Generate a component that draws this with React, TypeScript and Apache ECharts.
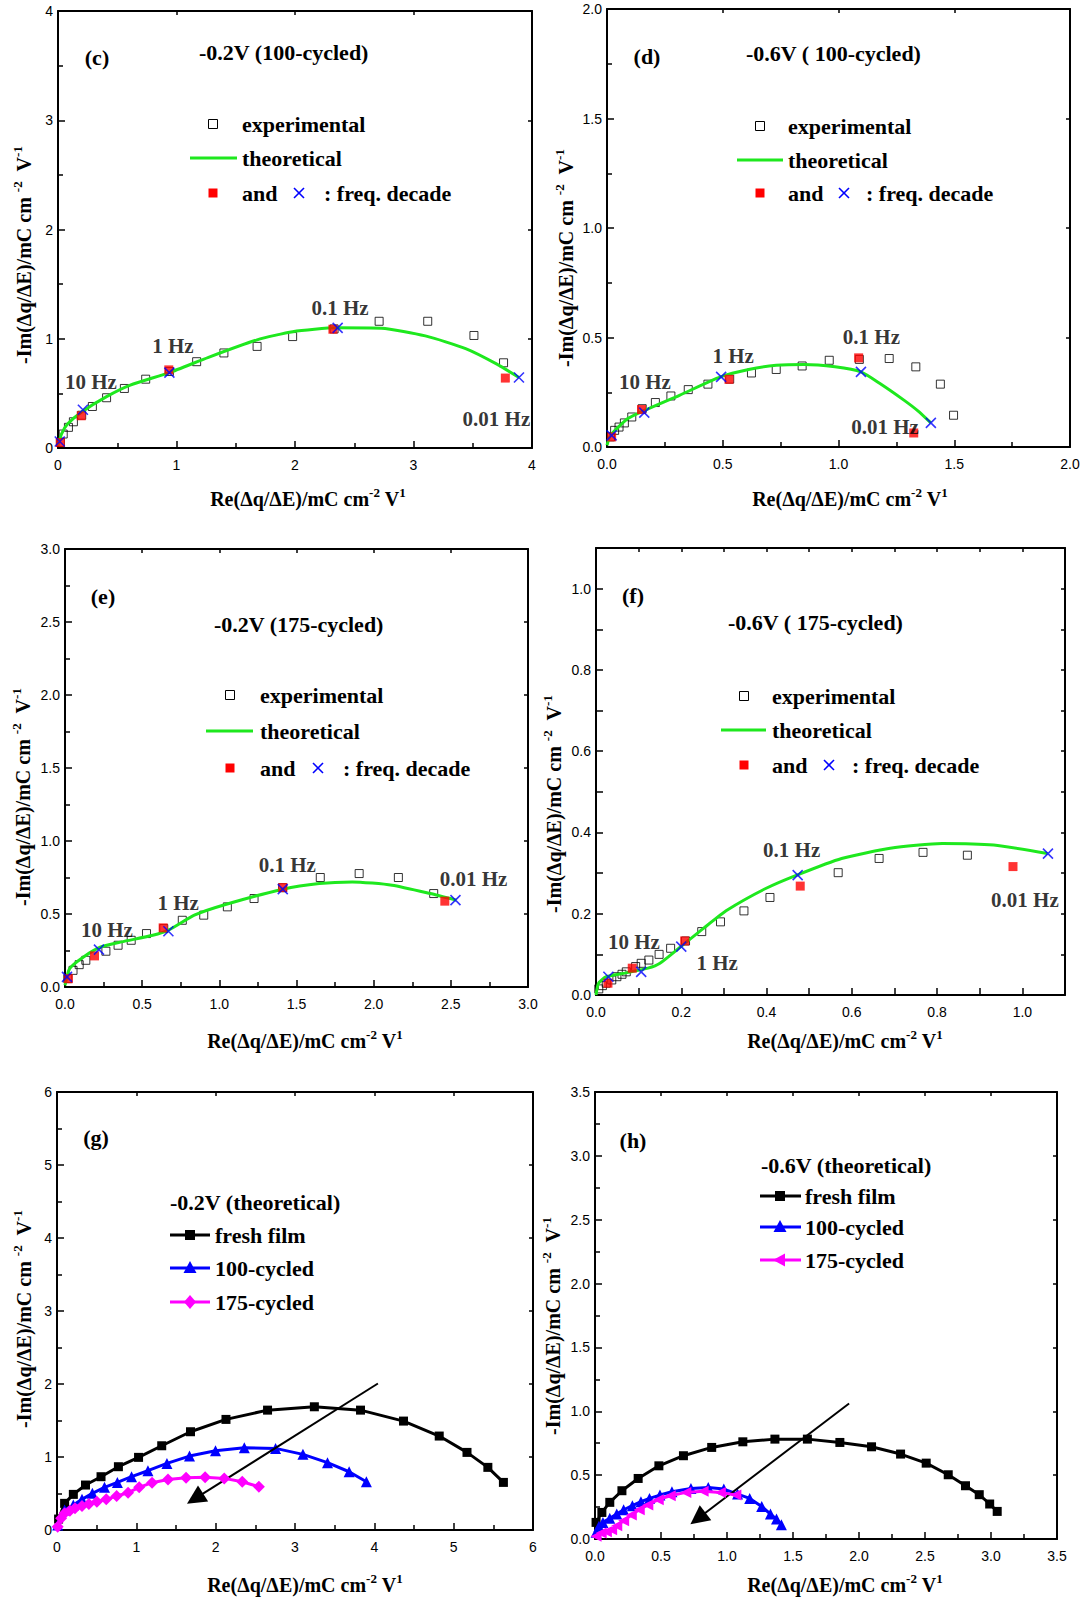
import React, { useEffect, useRef } from "react";
import * as echarts from "echarts";

type Pt = [number, number];

const SERIF = '"Liberation Serif", "Times New Roman", serif';
const SANS = '"Liberation Sans", Arial, sans-serif';
const GREEN = "#1ee81e";
const RED = "#ff0000";
const BLUE = "#0000ff";
const MAGENTA = "#ff00ff";
const BLACK = "#000000";

const FREQ_NAMES = ["10 Hz", "1 Hz", "0.1 Hz", "0.01 Hz"];

// ---------- (c) -0.2V (100-cycled) ----------
const C_EXP: Pt[] = [[0.02, 0.05], [0.044, 0.128], [0.088, 0.189], [0.13, 0.24], [0.2, 0.3], [0.29, 0.38], [0.41, 0.46], [0.56, 0.545], [0.74, 0.63], [0.94, 0.7], [1.17, 0.79], [1.4, 0.87], [1.68, 0.93], [1.98, 1.02], [2.33, 1.09], [2.71, 1.16], [3.12, 1.16], [3.51, 1.03], [3.76, 0.78]];
const C_THEO: Pt[] = [[0, 0.02], [0.03, 0.13], [0.08, 0.22], [0.2, 0.33], [0.41, 0.47], [0.61, 0.575], [0.94, 0.69], [1.27, 0.83], [1.68, 0.99], [1.98, 1.065], [2.35, 1.1], [2.73, 1.096], [3.1, 1.026], [3.44, 0.91], [3.7, 0.77], [3.89, 0.645]];
const C_RED: Pt[] = [[0.02, 0.05], [0.196, 0.295], [0.935, 0.715], [2.32, 1.087], [3.775, 0.64]];
const C_BLUE: Pt[] = [[0.015, 0.06], [0.21, 0.35], [0.94, 0.69], [2.36, 1.1], [3.89, 0.645]];
const C_LABEL_AT: Pt[] = [[0.278, 0.607], [0.97, 0.935], [2.38, 1.285], [3.7, 0.27]];

// ---------- (d) -0.6V (100-cycled) ----------
const D_EXP: Pt[] = [[0.015, 0.046], [0.033, 0.076], [0.052, 0.091], [0.075, 0.11], [0.107, 0.137], [0.152, 0.175], [0.209, 0.203], [0.276, 0.233], [0.351, 0.262], [0.436, 0.287], [0.53, 0.31], [0.624, 0.338], [0.731, 0.354], [0.843, 0.37], [0.96, 0.396], [1.09, 0.4], [1.219, 0.404], [1.334, 0.366], [1.44, 0.287], [1.497, 0.145]];
const D_THEO: Pt[] = [[0, 0.008], [0.015, 0.053], [0.09, 0.13], [0.164, 0.168], [0.313, 0.236], [0.49, 0.32], [0.612, 0.354], [0.731, 0.373], [0.851, 0.377], [0.985, 0.366], [1.097, 0.343], [1.179, 0.29], [1.284, 0.213], [1.343, 0.165], [1.399, 0.11]];
const D_RED: Pt[] = [[0.02, 0.046], [0.149, 0.171], [0.527, 0.309], [1.087, 0.407], [1.325, 0.064]];
const D_BLUE: Pt[] = [[0.02, 0.053], [0.161, 0.157], [0.493, 0.32], [1.097, 0.343], [1.399, 0.11]];
const D_LABEL_AT: Pt[] = [[0.164, 0.297], [0.545, 0.415], [1.142, 0.503], [1.201, 0.091]];

// ---------- (e) -0.2V (175-cycled) ----------
const E_EXP: Pt[] = [[0.018, 0.057], [0.052, 0.114], [0.092, 0.153], [0.135, 0.183], [0.265, 0.245], [0.344, 0.286], [0.429, 0.32], [0.528, 0.366], [0.64, 0.4], [0.76, 0.457], [0.899, 0.492], [1.052, 0.549], [1.225, 0.606], [1.41, 0.68], [1.654, 0.75], [1.906, 0.777], [2.16, 0.75], [2.389, 0.64]];
const E_THEO: Pt[] = [[0, 0.011], [0.03, 0.126], [0.12, 0.206], [0.231, 0.274], [0.366, 0.309], [0.569, 0.354], [0.67, 0.389], [0.838, 0.492], [1.04, 0.565], [1.411, 0.67], [1.647, 0.709], [1.861, 0.72], [2.12, 0.697], [2.366, 0.64], [2.535, 0.595]];
const E_RED: Pt[] = [[0.022, 0.057], [0.191, 0.213], [0.636, 0.405], [1.411, 0.681], [2.461, 0.588]];
const E_BLUE: Pt[] = [[0.013, 0.069], [0.22, 0.256], [0.67, 0.382], [1.411, 0.67], [2.53, 0.595]];
const E_LABEL_AT: Pt[] = [[0.272, 0.389], [0.733, 0.572], [1.44, 0.839], [2.647, 0.743]];

// ---------- (f) -0.6V (175-cycled) ----------
const F_EXP: Pt[] = [[0.0065, 0.015], [0.015, 0.023], [0.024, 0.029], [0.037, 0.037], [0.049, 0.045], [0.061, 0.051], [0.071, 0.057], [0.093, 0.07], [0.106, 0.078], [0.124, 0.086], [0.148, 0.1], [0.175, 0.115], [0.21, 0.133], [0.248, 0.156], [0.292, 0.18], [0.347, 0.207], [0.408, 0.24], [0.568, 0.301], [0.664, 0.336], [0.767, 0.351], [0.871, 0.344]];
const F_THEO: Pt[] = [[0, 0], [0.006, 0.029], [0.024, 0.045], [0.073, 0.055], [0.122, 0.066], [0.15, 0.078], [0.199, 0.119], [0.252, 0.164], [0.308, 0.209], [0.398, 0.262], [0.471, 0.295], [0.576, 0.336], [0.69, 0.361], [0.812, 0.373], [0.933, 0.369], [1.059, 0.348]];
const F_RED: Pt[] = [[0.028, 0.029], [0.085, 0.066], [0.208, 0.133], [0.479, 0.268], [0.978, 0.316]];
const F_BLUE: Pt[] = [[0.029, 0.045], [0.106, 0.057], [0.2, 0.119], [0.473, 0.295], [1.06, 0.348]];
const F_LABEL_AT: Pt[] = [[0.089, 0.13], [0.284, 0.078], [0.459, 0.357], [1.006, 0.235]];

// ---------- (g) -0.2V (theoretical) ----------
const G_FRESH: Pt[] = [[0.02, 0.15], [0.096, 0.365], [0.206, 0.488], [0.359, 0.616], [0.555, 0.73], [0.774, 0.867], [1.028, 0.995], [1.32, 1.154], [1.683, 1.346], [2.13, 1.515], [2.654, 1.642], [3.244, 1.688], [3.826, 1.642], [4.368, 1.492], [4.818, 1.287], [5.168, 1.063], [5.431, 0.858], [5.627, 0.652]];
const G_100: Pt[] = [[0.009, 0.068], [0.096, 0.274], [0.206, 0.342], [0.315, 0.42], [0.446, 0.502], [0.599, 0.584], [0.761, 0.652], [0.94, 0.73], [1.146, 0.812], [1.386, 0.912], [1.67, 1.013], [1.998, 1.086], [2.361, 1.127], [2.755, 1.118], [3.1, 1.036], [3.41, 0.922], [3.682, 0.798], [3.9, 0.661]];
const G_175: Pt[] = [[0.009, 0.046], [0.052, 0.16], [0.096, 0.228], [0.162, 0.265], [0.227, 0.297], [0.315, 0.328], [0.402, 0.356], [0.503, 0.388], [0.621, 0.42], [0.752, 0.465], [0.896, 0.511], [1.036, 0.584], [1.198, 0.648], [1.399, 0.693], [1.627, 0.716], [1.867, 0.721], [2.108, 0.707], [2.335, 0.661], [2.545, 0.593]];
const G_ARROW: Pt[] = [[4.045, 2.007], [1.74, 0.43]];

// ---------- (h) -0.6V (theoretical) ----------
const H_FRESH: Pt[] = [[0.008, 0.13], [0.052, 0.208], [0.112, 0.287], [0.204, 0.378], [0.327, 0.474], [0.484, 0.573], [0.67, 0.652], [0.884, 0.717], [1.12, 0.761], [1.363, 0.782], [1.609, 0.782], [1.855, 0.756], [2.095, 0.722], [2.315, 0.665], [2.509, 0.594], [2.676, 0.503], [2.807, 0.417], [2.911, 0.347], [2.99, 0.274], [3.047, 0.216]];
const H_100: Pt[] = [[0.008, 0.052], [0.03, 0.1], [0.06, 0.13], [0.112, 0.162], [0.165, 0.195], [0.217, 0.229], [0.283, 0.261], [0.348, 0.292], [0.413, 0.318], [0.492, 0.344], [0.583, 0.37], [0.727, 0.396], [0.858, 0.404], [0.976, 0.391], [1.08, 0.352], [1.172, 0.318], [1.263, 0.255], [1.329, 0.195], [1.375, 0.156], [1.412, 0.112]];
const H_175: Pt[] = [[0.008, 0.021], [0.047, 0.047], [0.086, 0.057], [0.126, 0.073], [0.165, 0.104], [0.217, 0.143], [0.275, 0.188], [0.335, 0.229], [0.4, 0.266], [0.479, 0.308], [0.57, 0.339], [0.688, 0.365], [0.819, 0.373], [0.95, 0.365], [1.067, 0.344]];
const H_ARROW: Pt[] = [[1.925, 1.061], [0.78, 0.16]];

// axis ranges: [min, max, interval, minorSplit]
const C_RANGE = [0, 4, 1, 2];
const D_RANGE = [0, 2, 0.5, 2];
const E_RANGE = [0, 3, 0.5, 2];
const F_RANGE = [0, 1.1, 0.1, 0];
const G_RANGE = [0, 6, 1, 2];
const H_RANGE = [0, 3.5, 0.5, 2];

const fmtInt = (v: number) => String(Math.round(v));
const fmt1 = (v: number) => v.toFixed(1);
const fmtEven = (v: number) => {
  const k = Math.round(v * 10);
  return k % 2 === 0 && k <= 10 ? (k / 10).toFixed(1) : "";
};

const PANELS = [
  { left: 58, top: 11, width: 474, height: 437, range: C_RANGE, fmt: fmtInt },
  { left: 607, top: 9, width: 463, height: 438, range: D_RANGE, fmt: fmt1 },
  { left: 65, top: 549, width: 463, height: 438, range: E_RANGE, fmt: fmt1 },
  { left: 596, top: 548, width: 469, height: 447, range: F_RANGE, fmt: fmtEven },
  { left: 57, top: 1092, width: 476, height: 438, range: G_RANGE, fmt: fmtInt },
  { left: 595, top: 1092, width: 462, height: 447, range: H_RANGE, fmt: fmt1 },
];

const X_SYMBOL = "path://M0,0L10,10M10,0L0,10";

function buildAxes(i: number, p: any) {
  const [min, max, interval, minor] = p.range;
  const line = { show: true, onZero: false, lineStyle: { color: BLACK, width: 2 } };
  const main = (pos: string, isX: boolean) => ({
    gridIndex: i,
    type: "value",
    position: pos,
    min,
    max,
    interval,
    splitLine: { show: false },
    axisLine: line,
    axisTick: { show: true, inside: true, length: 7, lineStyle: { color: BLACK, width: 1.5 } },
    minorTick: { show: minor > 1, splitNumber: minor || 2, length: 5, lineStyle: { color: BLACK, width: 1.5 } },
    axisLabel: {
      show: true,
      color: BLACK,
      fontSize: 14,
      fontFamily: SANS,
      margin: isX ? 10 : 5,
      formatter: p.fmt,
      showMaxLabel: true,
    },
  });
  const mirror = (pos: string) => ({
    gridIndex: i,
    type: "value",
    position: pos,
    min,
    max,
    interval,
    splitLine: { show: false },
    axisLine: line,
    axisTick: { show: true, inside: true, length: 4, lineStyle: { color: BLACK, width: 1.5 } },
    minorTick: { show: false },
    axisLabel: { show: false },
  });
  return {
    x: [main("bottom", true), mirror("top")],
    y: [main("left", false), mirror("right")],
  };
}

function freqSeries(i: number, exp: Pt[], theo: Pt[], red: Pt[], blue: Pt[], labelAt: Pt[]) {
  const ax = { xAxisIndex: 2 * i, yAxisIndex: 2 * i };
  return [
    { type: "scatter", ...ax, data: exp, symbol: "rect", symbolSize: 8, itemStyle: { color: "rgba(0,0,0,0)", borderColor: BLACK, borderWidth: 1 }, z: 2, silent: true },
    { type: "line", ...ax, data: theo, showSymbol: false, smooth: 0.2, lineStyle: { color: GREEN, width: 3 }, z: 3, silent: true },
    { type: "scatter", ...ax, data: red, symbol: "rect", symbolSize: 9, itemStyle: { color: RED }, z: 4, silent: true },
    { type: "scatter", ...ax, data: blue, symbol: X_SYMBOL, symbolSize: 10, itemStyle: { color: "rgba(0,0,0,0)", borderColor: BLUE, borderWidth: 1.6 }, z: 5, silent: true },
    {
      type: "scatter",
      ...ax,
      data: FREQ_NAMES.map((n, k) => ({ name: n, value: labelAt[k] })),
      symbolSize: 1,
      itemStyle: { color: "rgba(0,0,0,0)" },
      label: { show: true, position: "inside", formatter: "{b}", fontFamily: SERIF, fontWeight: "bold", fontSize: 21, color: BLACK },
      z: 6,
      silent: true,
    },
  ];
}

function cycleSeries(i: number, fresh: Pt[], c100: Pt[], c175: Pt[], arrow: Pt[], leftTri: boolean) {
  const ax = { xAxisIndex: 2 * i, yAxisIndex: 2 * i };
  return [
    {
      type: "line", ...ax, name: "fresh film", data: fresh, symbol: "rect", symbolSize: 9, showAllSymbol: true,
      lineStyle: { color: BLACK, width: 3 }, itemStyle: { color: BLACK }, z: 3, silent: true,
      markLine: {
        silent: true, symbol: ["none", "triangle"], symbolSize: 19, label: { show: false },
        lineStyle: { color: BLACK, width: 2, type: "solid" }, itemStyle: { color: BLACK },
        data: [[{ coord: arrow[0] }, { coord: arrow[1] }]],
      },
    },
    {
      type: "line", ...ax, name: "100-cycled", data: c100, symbol: "triangle", symbolSize: 11, showAllSymbol: true,
      lineStyle: { color: BLUE, width: 3 }, itemStyle: { color: BLUE }, z: 4, silent: true,
    },
    {
      type: "line", ...ax, name: "175-cycled", data: c175, symbol: leftTri ? "triangle" : "diamond",
      symbolRotate: leftTri ? 90 : 0, symbolSize: leftTri ? 11 : 12, showAllSymbol: true,
      lineStyle: { color: MAGENTA, width: 3 }, itemStyle: { color: MAGENTA }, z: 5, silent: true,
    },
  ];
}

const txt = (x: number, y: number, text: string, extra: any = {}) => ({
  type: "text",
  x,
  y,
  silent: true,
  z: 100,
  style: { text, fontFamily: SERIF, fontWeight: "bold", fontSize: 22, fill: BLACK, align: "left", verticalAlign: "middle", ...extra },
});

function freqLegend(sqX: number, textX: number, yE: number, yT: number, yA: number, l1: number, l2: number, xX: number, colonX: number) {
  return [
    { type: "rect", z: 100, silent: true, shape: { x: sqX - 4.5, y: yE - 4.5, width: 9, height: 9 }, style: { fill: "rgba(0,0,0,0)", stroke: BLACK, lineWidth: 1 } },
    txt(textX, yE, "experimental"),
    { type: "line", z: 100, silent: true, shape: { x1: l1, y1: yT, x2: l2, y2: yT }, style: { stroke: GREEN, lineWidth: 3 } },
    txt(textX, yT, "theoretical"),
    { type: "rect", z: 100, silent: true, shape: { x: sqX - 4.5, y: yA - 4.5, width: 9, height: 9 }, style: { fill: RED } },
    txt(textX, yA, "and"),
    { type: "line", z: 100, silent: true, shape: { x1: xX - 5, y1: yA - 5, x2: xX + 5, y2: yA + 5 }, style: { stroke: BLUE, lineWidth: 1.6 } },
    { type: "line", z: 100, silent: true, shape: { x1: xX + 5, y1: yA - 5, x2: xX - 5, y2: yA + 5 }, style: { stroke: BLUE, lineWidth: 1.6 } },
    txt(colonX, yA, ": freq. decade"),
  ];
}

function cycleLegend(l1: number, l2: number, mx: number, textX: number, ys: number[], leftTri: boolean) {
  const out: any[] = [];
  const colors = [BLACK, BLUE, MAGENTA];
  const names = ["fresh film", "100-cycled", "175-cycled"];
  ys.forEach((y, k) => {
    out.push({ type: "line", z: 100, silent: true, shape: { x1: l1, y1: y, x2: l2, y2: y }, style: { stroke: colors[k], lineWidth: 3 } });
    if (k === 0) {
      out.push({ type: "rect", z: 101, silent: true, shape: { x: mx - 5, y: y - 5, width: 10, height: 10 }, style: { fill: BLACK } });
    } else if (k === 1) {
      out.push({ type: "polygon", z: 101, silent: true, shape: { points: [[mx, y - 7], [mx - 6.5, y + 5], [mx + 6.5, y + 5]] }, style: { fill: BLUE } });
    } else if (leftTri) {
      out.push({ type: "polygon", z: 101, silent: true, shape: { points: [[mx - 7, y], [mx + 5, y - 6.5], [mx + 5, y + 6.5]] }, style: { fill: MAGENTA } });
    } else {
      out.push({ type: "polygon", z: 101, silent: true, shape: { points: [[mx, y - 7], [mx + 6, y], [mx, y + 7], [mx - 6, y]] }, style: { fill: MAGENTA } });
    }
    out.push(txt(textX, y, names[k]));
  });
  return out;
}

const RICH = {
  b: { fontFamily: SERIF, fontWeight: "bold", fontSize: 20, lineHeight: 26, fill: BLACK },
  s: { fontFamily: SERIF, fontWeight: "bold", fontSize: 13, verticalAlign: "top", fill: BLACK },
};
const X_TITLE = "{b|Re(Δq/ΔE)/mC cm}{s|-2}{b| V}{s|1}";
const Y_TITLE = "{b|-Im(Δq/ΔE)/mC cm }{s|-2}{b|  V}{s|-1}";

const axisTitle = (x: number, y: number, vertical: boolean) => ({
  type: "text",
  x,
  y,
  rotation: vertical ? Math.PI / 2 : 0,
  silent: true,
  z: 100,
  style: { text: vertical ? Y_TITLE : X_TITLE, rich: RICH, align: "center", verticalAlign: "middle", fill: BLACK },
});

export default function App() {
  const ref = useRef<HTMLDivElement>(null);
  useEffect(() => {
    if (!ref.current) return;
    const chart = echarts.init(ref.current, null, { renderer: "svg" });
    const xAxis: any[] = [];
    const yAxis: any[] = [];
    PANELS.forEach((p, i) => {
      const a = buildAxes(i, p);
      xAxis.push(...a.x);
      yAxis.push(...a.y);
    });
    const series: any[] = [
      ...freqSeries(0, C_EXP, C_THEO, C_RED, C_BLUE, C_LABEL_AT),
      ...freqSeries(1, D_EXP, D_THEO, D_RED, D_BLUE, D_LABEL_AT),
      ...freqSeries(2, E_EXP, E_THEO, E_RED, E_BLUE, E_LABEL_AT),
      ...freqSeries(3, F_EXP, F_THEO, F_RED, F_BLUE, F_LABEL_AT),
      ...cycleSeries(4, G_FRESH, G_100, G_175, G_ARROW, false),
      ...cycleSeries(5, H_FRESH, H_100, H_175, H_ARROW, true),
    ];
    const graphic: any[] = [
      // panel letters and titles
      txt(97, 57, "(c)", { align: "center" }),
      txt(199, 52, "-0.2V (100-cycled)"),
      txt(647, 56, "(d)", { align: "center" }),
      txt(746, 53, "-0.6V ( 100-cycled)"),
      txt(103, 596, "(e)", { align: "center" }),
      txt(214, 624, "-0.2V (175-cycled)"),
      txt(633, 595, "(f)", { align: "center" }),
      txt(728, 622, "-0.6V ( 175-cycled)"),
      txt(96, 1137, "(g)", { align: "center" }),
      txt(170, 1202, "-0.2V (theoretical)"),
      txt(633, 1140, "(h)", { align: "center" }),
      txt(761, 1165, "-0.6V (theoretical)"),
      // legends
      ...freqLegend(213, 242, 124, 158, 193, 190, 237, 299, 324),
      ...freqLegend(760, 788, 126, 160, 193, 737, 783, 844, 866),
      ...freqLegend(230, 260, 695, 731, 768, 206, 253, 318, 343),
      ...freqLegend(744, 772, 696, 730, 765, 721, 766, 829, 852),
      ...cycleLegend(170, 210, 190, 215, [1235, 1268, 1302], false),
      ...cycleLegend(760, 801, 780, 805, [1196, 1227, 1260], true),
      // axis titles
      axisTitle(308, 499, false),
      axisTitle(850, 499, false),
      axisTitle(305, 1041, false),
      axisTitle(845, 1041, false),
      axisTitle(305, 1585, false),
      axisTitle(845, 1585, false),
      axisTitle(24, 255, true),
      axisTitle(566, 258, true),
      axisTitle(23, 797, true),
      axisTitle(554, 804, true),
      axisTitle(24, 1319, true),
      axisTitle(553, 1326, true),
    ];
    chart.setOption({
      animation: false,
      backgroundColor: "#ffffff",
      textStyle: { fontFamily: SANS },
      grid: PANELS.map((p) => ({ left: p.left, top: p.top, width: p.width, height: p.height, containLabel: false })),
      xAxis,
      yAxis,
      series,
      graphic,
    });
    return () => chart.dispose();
  }, []);
  return <div ref={ref} style={{ position: "absolute", left: 0, top: 0, width: 1083, height: 1602, background: "#fff" }} />;
}
